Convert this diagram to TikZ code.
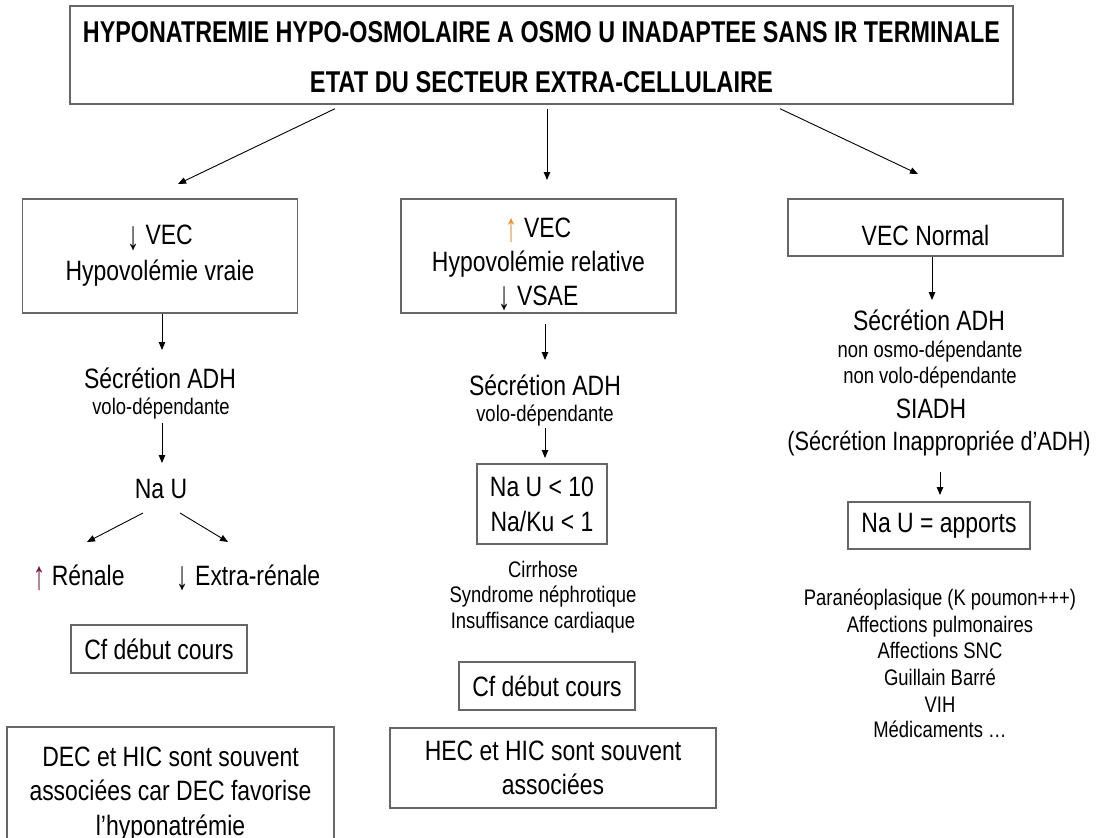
\documentclass[tikz,border=0pt]{standalone}
\usepackage{fontspec}
\setmainfont{Liberation Sans}[FakeStretch=0.82]
\usetikzlibrary{arrows.meta}
\definecolor{boxgray}{HTML}{666666}
\definecolor{uporange}{HTML}{E8902E}
\definecolor{upred}{HTML}{7A1234}
\newcommand\myDn{\raisebox{-0.17em}{\scalebox{1.05}[1.45]{↓}}}
\newcommand\myUp[1]{\raisebox{-0.17em}{\scalebox{1.05}[1.45]{\color{#1}↑}}}
\begin{document}
\begin{tikzpicture}[x=1pt,y=-1pt,
  box/.style={draw=boxgray, line width=1.4pt, rectangle, inner sep=0pt, align=center},
  arr/.style={-{Triangle[length=8pt,width=6.5pt]}, line width=0.9pt, black},
  big/.style={font=\fontsize{28}{36}\selectfont, inner sep=0pt, align=center},
  small/.style={font=\fontsize{22.5}{26}\selectfont, inner sep=0pt, align=center},
  title/.style={inner sep=0pt, anchor=base}
]
\clip (0,0) rectangle (1098,838);
\fill[white] (0,0) rectangle (1098,838);

% ---------- top box ----------
\node[box, minimum width=943pt, minimum height=98pt] (top) at (541.5,55) {};
\node[title] (t1) at (541.5,42) {\resizebox{917pt}{21pt}{\bfseries HYPONATREMIE HYPO-OSMOLAIRE A OSMO U INADAPTEE SANS IR TERMINALE}};
\node[title] (t2) at (541.5,92) {\resizebox{463pt}{21pt}{\bfseries ETAT DU SECTEUR EXTRA-CELLULAIRE}};

% ---------- level 2 boxes ----------
\node[box, big, minimum width=275pt, minimum height=114pt] (lbox) at (160,256)
  {\myDn\ VEC\\Hypovolémie vraie};
\node[box, minimum width=275pt, minimum height=114pt] (mbox) at (538.5,256) {};
\node[big, anchor=base] (mt1) at (538.5,237) {\myUp{uporange}\ VEC};
\node[big, anchor=base] (mt2) at (538.5,271) {Hypovolémie relative};
\node[big, anchor=base] (mt3) at (538.5,305) {\myDn\ VSAE};
\node[box, big, minimum width=275pt, minimum height=57pt] (rbox) at (925.5,227.5)
  {\raisebox{-8pt}[\height][\depth]{VEC Normal}};

\coordinate (e1) at (178,184);
\coordinate (e2) at (547,180);
\coordinate (e3) at (918,174);
\draw[arr] ([xshift=-206.5pt,yshift=-4pt]top.south) -- (e1);
\draw[arr] ([xshift=5.5pt,yshift=-4pt]top.south) -- (e2);
\draw[arr] ([xshift=238.5pt,yshift=-4pt]top.south) -- (e3);

% ---------- left column ----------
\node[big, anchor=base] (sec1) at (160,388) {Sécrétion ADH};
\node[small, anchor=base] (vol1) at (161,414) {volo-dépendante};
\node[big, anchor=base] (nau1) at (161,498) {Na U};
\node[big, anchor=base] (ren) at (79,585) {\myUp{upred}\ Rénale};
\node[big, anchor=base] (extra) at (248.5,585) {\myDn\ Extra-rénale};
\node[box, big, minimum width=176pt, minimum height=48pt] (cf1) at (159,649) {Cf début cours};
\node[box, big, font=\fontsize{28}{34.5}\selectfont, minimum width=327pt, minimum height=134pt] (dec) at (170.5,794)
  {DEC et HIC sont souvent\\associées car DEC favorise\\l’hyponatrémie};

\coordinate (p1) at (162,350);
\draw[arr] (lbox.south -| p1) -- (p1);
\coordinate (p2) at (162,463);
\draw[arr, shorten <=4.5pt] (vol1.south -| p2) -- (p2);
\coordinate (q1s) at (143,513);
\coordinate (q1e) at (87,542);
\coordinate (q2s) at (180,513);
\coordinate (q2e) at (228,542);
\draw[arr] (q1s) -- (q1e);
\draw[arr] (q2s) -- (q2e);

% ---------- middle column ----------
\node[big, anchor=base] (sec2) at (545,395) {Sécrétion ADH};
\node[small, anchor=base] (vol2) at (545,421) {volo-dépendante};
\node[box, big, font=\fontsize{28}{35}\selectfont, minimum width=130pt, minimum height=80pt] (nau2) at (542,504)
  {Na U < 10\\Na/Ku < 1};
\node[small, anchor=base] (c1) at (543,577) {Cirrhose};
\node[small, anchor=base] (c2) at (543,602) {Syndrome néphrotique};
\node[small, anchor=base] (c3) at (543,628) {Insuffisance cardiaque};
\node[box, big, minimum width=176pt, minimum height=48pt] (cf2) at (547,686) {Cf début cours};
\node[box, big, font=\fontsize{28}{34}\selectfont, minimum width=326pt, minimum height=80pt] (hec) at (553,768)
  {HEC et HIC sont souvent\\associées};

\coordinate (m1e) at (545,360);
\draw[arr, shorten <=10pt] (mbox.south -| m1e) -- (m1e);
\coordinate (m2e) at (545,458);
\draw[arr, shorten <=2pt] (vol2.south -| m2e) -- (m2e);

% ---------- right column ----------
\node[big, anchor=base] (sec3) at (929,330) {Sécrétion ADH};
\node[small, anchor=base] (osmo) at (930,357) {non osmo-dépendante};
\node[small, anchor=base] (volo3) at (930,383) {non volo-dépendante};
\node[big, anchor=base] (siadh) at (931,418) {SIADH};
\node[big, anchor=base, font=\fontsize{26.5}{30}\selectfont] (sia2) at (939,450) {(Sécrétion Inappropriée d’ADH)};
\node[box, big, minimum width=182pt, minimum height=47pt] (app) at (939,525.5) {Na U = apports};
\node[small, anchor=base] (r1) at (940,605) {Paranéoplasique (K poumon+++)};
\node[small, anchor=base] (r2) at (940,632) {Affections pulmonaires};
\node[small, anchor=base] (r3) at (940,658) {Affections SNC};
\node[small, anchor=base] (r4) at (940,685) {Guillain Barré};
\node[small, anchor=base] (r5) at (940,712) {VIH};
\node[small, anchor=base] (r6) at (940,737) {Médicaments …};

\coordinate (n1) at (932,300);
\draw[arr] (rbox.south -| n1) -- (n1);
\coordinate (n2e) at (940,495);
\draw[arr, shorten <=16pt] (sia2.south -| n2e) -- (n2e);
\end{tikzpicture}
\end{document}
